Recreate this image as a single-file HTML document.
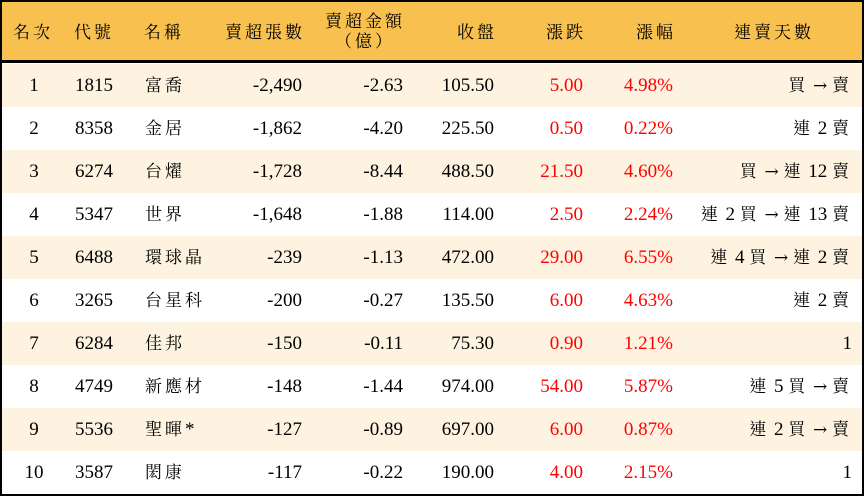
<!DOCTYPE html>
<html><head><meta charset="utf-8"><style>
*{margin:0;padding:0;box-sizing:border-box}
body{width:864px;height:496px;background:#fff;overflow:hidden;font-family:"Liberation Serif","Noto Serif CJK TC","Noto Serif CJK SC",serif;font-size:19px;color:#000}
#t{position:absolute;left:0;top:0;width:864px;height:496px;border:2px solid #000}
.h{position:absolute;left:0;top:0;width:860px;height:61px;background:#F8C14F;border-bottom:3px solid #000}
.h .c{font-size:17px;letter-spacing:3px}
.r{position:absolute;left:0;width:860px;height:43px}
.c{position:absolute;top:0;height:100%;line-height:43px;white-space:nowrap}
.k{font-size:17px;letter-spacing:3px}
.red{color:#f00}
.a{font-family:"DejaVu Serif",serif;font-size:17px}
</style></head><body><div id="t">
<div class="h">
<div class="c" style="left:11px;line-height:61px">名次</div>
<div class="c" style="left:72px;line-height:61px">代號</div>
<div class="c" style="left:142px;line-height:61px">名稱</div>
<div class="c" style="right:557px;line-height:61px">賣超張數</div>
<div class="c" style="right:457px;top:10px;line-height:20px;text-align:center;height:auto">賣超金額<br>（億）</div>
<div class="c" style="right:365px;line-height:61px">收盤</div>
<div class="c" style="right:276px;line-height:61px">漲跌</div>
<div class="c" style="right:186px;line-height:61px">漲幅</div>
<div class="c" style="left:732px;line-height:61px">連賣天數</div>
</div>
<div id="rows"></div>
</div>
<script>
var d=[["1","1815","富喬","-2,490","-2.63","105.50","5.00","4.98%","買 → 賣"],
["2","8358","金居","-1,862","-4.20","225.50","0.50","0.22%","連 2 賣"],
["3","6274","台燿","-1,728","-8.44","488.50","21.50","4.60%","買 → 連 12 賣"],
["4","5347","世界","-1,648","-1.88","114.00","2.50","2.24%","連 2 買 → 連 13 賣"],
["5","6488","環球晶","-239","-1.13","472.00","29.00","6.55%","連 4 買 → 連 2 賣"],
["6","3265","台星科","-200","-0.27","135.50","6.00","4.63%","連 2 賣"],
["7","6284","佳邦","-150","-0.11","75.30","0.90","1.21%","1"],
["8","4749","新應材","-148","-1.44","974.00","54.00","5.87%","連 5 買 → 賣"],
["9","5536","聖暉*","-127","-0.89","697.00","6.00","0.87%","連 2 買 → 賣"],
["10","3587","閎康","-117","-0.22","190.00","4.00","2.15%","1"]];
function fmt(s){return s.replace(/([\u4e00-\u9fff])/g,'<span class="k">$1</span>').replace('→','<span class="a">→</span>');}
var h="";
d.forEach(function(r,i){
h+='<div class="r" style="top:'+(62+i*43)+'px;background:'+(i%2==0?'#FDF3E0':'#fff')+'">'+
'<div class="c" style="left:0;width:64px;text-align:center">'+r[0]+'</div>'+
'<div class="c" style="left:73px">'+r[1]+'</div>'+
'<div class="c" style="left:143px">'+fmt(r[2])+'</div>'+
'<div class="c" style="right:560px">'+r[3]+'</div>'+
'<div class="c" style="right:459px">'+r[4]+'</div>'+
'<div class="c" style="right:368px">'+r[5]+'</div>'+
'<div class="c red" style="right:279px">'+r[6]+'</div>'+
'<div class="c red" style="right:189px">'+r[7]+'</div>'+
'<div class="c" style="right:10px">'+fmt(r[8])+'</div></div>';});
document.getElementById("rows").innerHTML=h;
</script>
</body></html>
